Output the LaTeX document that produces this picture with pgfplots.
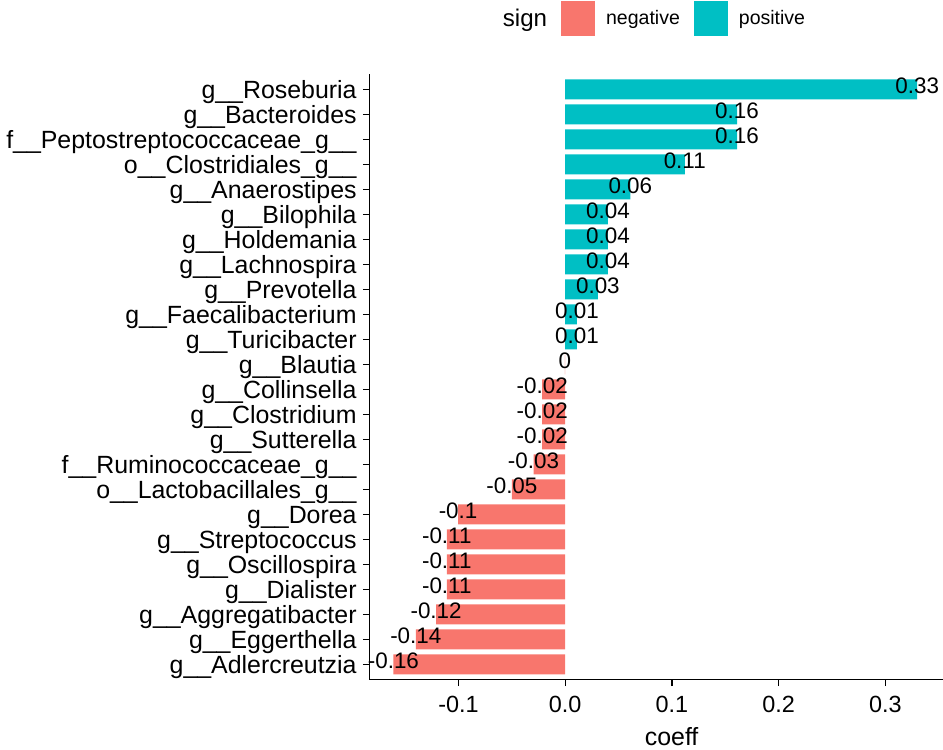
\documentclass[border=0pt]{standalone}
\usepackage{fontspec}
\setmainfont{Liberation Sans}
\usepackage{pgfplots}
\pgfplotsset{compat=1.18}
\usepackage{pgfplotstable}
\definecolor{negc}{HTML}{F8766D}
\definecolor{posc}{HTML}{00BFC4}

\pgfplotstableread{
y val lab
24 0.3298 0.33
23 0.161 0.16
22 0.161 0.16
21 0.112 0.11
20 0.061 0.06
19 0.040 0.04
18 0.040 0.04
17 0.040 0.04
16 0.0306 0.03
15 0.011 0.01
14 0.011 0.01
}\postab

\pgfplotstableread{
y val lab
13 -0.0004 0
12 -0.0216 -0.02
11 -0.0216 -0.02
10 -0.0216 -0.02
9 -0.0297 -0.03
8 -0.050 -0.05
7 -0.1004 -0.1
6 -0.111 -0.11
5 -0.111 -0.11
4 -0.111 -0.11
3 -0.121 -0.12
2 -0.140 -0.14
1 -0.161 -0.16
}\negtab

\begin{document}
\begin{tikzpicture}
\path[use as bounding box] (0,0) rectangle (943bp,750bp);
\begin{axis}[
  at={(369.3bp,70.5bp)}, anchor=south west,
  scale only axis, width=573.7bp, height=605bp,
  xmin=-0.1836, xmax=0.3540, ymin=0.4, ymax=24.6,
  axis x line*=bottom, axis y line*=left,
  axis line style={line width=1.3bp, black},
  xbar, bar width=20bp, bar shift=0pt,
  xtick={-0.1,0,0.1,0.2,0.3},
  xticklabels={-0.1,0.0,0.1,0.2,0.3},
  ytick={1,...,24},
  yticklabels={g\_\_Adlercreutzia, g\_\_Eggerthella, g\_\_Aggregatibacter, g\_\_Dialister, g\_\_Oscillospira, g\_\_Streptococcus, g\_\_Dorea, o\_\_Lactobacillales\_g\_\_, f\_\_Ruminococcaceae\_g\_\_, g\_\_Sutterella, g\_\_Clostridium, g\_\_Collinsella, g\_\_Blautia, g\_\_Turicibacter, g\_\_Faecalibacterium, g\_\_Prevotella, g\_\_Lachnospira, g\_\_Holdemania, g\_\_Bilophila, g\_\_Anaerostipes, o\_\_Clostridiales\_g\_\_, f\_\_Peptostreptococcaceae\_g\_\_, g\_\_Bacteroides, g\_\_Roseburia},
  tick align=outside, major tick length=6.5bp,
  tick style={line width=1.3bp, black},
  yticklabel style={font=\fontsize{25}{30}\selectfont, anchor=base east, inner sep=0pt, xshift=-6bp, yshift=-9bp},
  xticklabel style={font=\fontsize{23.5}{28}\selectfont, anchor=north, inner sep=0pt, yshift=-9.5bp},
  xlabel={coeff},
  xlabel style={font=\fontsize{25}{30}\selectfont, at={(axis description cs:0.527,0)}, anchor=base, inner sep=0pt, yshift=-65.5bp},
  point meta=explicit symbolic,
  legend image code/.code={\fill[#1] (0bp,-17.5bp) rectangle (34bp,17.5bp);},
  legend columns=3,
  legend style={draw=none, fill=none, at={(axis description cs:0.4884,1.0926)}, anchor=center,
    font=\fontsize{19.6}{23}\selectfont, inner sep=0pt, outer sep=0pt,
    /tikz/every even column/.append style={column sep=12bp},
    /tikz/every odd column/.append style={column sep=9bp}},
]
\addlegendimage{empty legend}
\addlegendentry{\fontsize{24.2}{29}\selectfont sign}
\addplot[fill=negc, draw=none, nodes near coords, nodes near coords align={center},
  every node near coord/.append style={font=\fontsize{22.5}{27}\selectfont, text=black, anchor=base, inner sep=0pt, yshift=-4bp}]
  table[x=val, y=y, meta=lab] {\negtab};
\addlegendentry{negative}
\addplot[fill=posc, draw=none, nodes near coords, nodes near coords align={center},
  every node near coord/.append style={font=\fontsize{22.5}{27}\selectfont, text=black, anchor=base, inner sep=0pt, yshift=-4bp}]
  table[x=val, y=y, meta=lab] {\postab};
\addlegendentry{positive}
\end{axis}
\end{tikzpicture}
\end{document}
